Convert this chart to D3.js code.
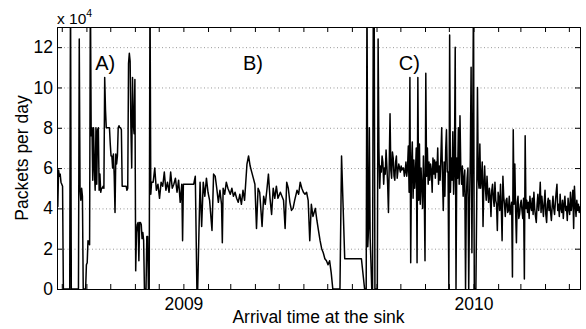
<!DOCTYPE html>
<html>
<head>
<meta charset="utf-8">
<script src="https://cdn.jsdelivr.net/npm/d3@7"></script>
<style>
  body { margin: 0; background: #fff; }
  svg { display: block; font-family: "Liberation Sans", Helvetica, Arial, sans-serif; }
  .axis path, .axis line { stroke: #000; }
  .grid line { stroke: #999; stroke-dasharray: 1,2.5; }
</style>
</head>
<body>
<div id="chart"></div>
<script>
// series starts on this day; readings are [day offset, packets / 1e4]
var startDate = new Date(2008, 6, 26);
var endDate = new Date(2010, 4, 15);

// period A (start of deployment)
var periodA = [
  [0,4.2],[1,4.1],[2,5.9],[3,5.6],[4,5.7],[5,5.3],[6,5.2],[7,5.1],[8,0],[16,0],
  [17,15],[18,0],[27,0],[28,12.4],[29,5.0],[30,4.4],[31,5.0],[32,4.6],[33,0],[36,0],
  [37,1.2],[38,1.3],[39,2.4],[40,2.3],[41,2.2],[42,15],[43,7.6],[44,8.0],[45,5.4],[46,8.0],
  [47,6.0],[48,4.9],[49,8.0],[50,5.2],[51,7.9],[52,8.0],[53,4.9],[54,5.7],[55,4.8],[56,5.0],
  [57,5.0],[58,5.1],[59,5.0],[60,10.5],[61,8.9],[62,8.0],[63,8.0],[64,8.0],[65,8.0],[66,8.0],
  [67,7.2],[68,6.6],[69,6.6],[70,6.0],[71,6.7],[72,5.6],[73,3.8],[74,6.7],[75,6.2],[76,6.6],
  [77,8.0],[78,8.1],[79,8.0],[80,8.0],[81,7.9],[82,5.1],[83,5.1],[84,5.1],[85,5.1],[86,5.1],
  [87,5.1],[88,4.9],[89,5.0],[90,11.2],[91,11.7],[92,11.3],[93,8.0],[94,6.0],[95,10.5],[96,8.2],
  [97,7.7],[98,10.4],[99,0.9],[100,2.8],[101,3.2],[102,3.3],[103,1.4],[104,3.3],[105,3.3],[106,3.2],
  [107,2.5],[108,2.8],[109,2.4],[110,0],[112,0],[113,2.6],[114,2.6],[115,0],[116,0],[117,15]
];

// period B (2009, stable then decaying)
var periodB = [
  [118,4.7],[119,5.3],[121,5.3],[123,6.0],[125,4.9],[127,5.2],[129,4.5],[131,5.3],[133,5.1],[135,5.8],
  [137,4.9],[139,5.3],[141,4.8],[143,5.8],[145,5.0],[147,5.2],[149,5.5],[151,4.8],[153,5.4],[155,4.3],
  [157,5.2],[158,2.4],[159,5.2],[172,5.2],[174,5.6],[176,0],[177,0],[180,5.3],[182,3.1],[184,5.3],
  [186,4.6],[188,5.5],[190,4.8],[192,4.4],[195,2.9],[197,5.7],[199,5.6],[201,5.0],[203,4.3],[205,4.9],
  [207,4.2],[208,2.3],[209,5.0],[211,4.7],[213,5.3],[215,5.0],[218,4.7],[220,5.0],[222,4.6],[224,4.8],
  [226,4.5],[228,4.3],[230,4.7],[232,4.2],[234,4.9],[236,4.4],[239,6.2],[241,6.6],[243,6.1],[245,5.8],
  [247,5.5],[249,5.2],[251,3.0],[253,5.0],[255,4.8],[258,3.1],[260,4.6],[262,4.2],[264,4.9],[266,5.7],
  [268,4.5],[270,3.7],[272,5.0],[274,4.5],[276,5.1],[278,4.5],[281,4.8],[283,4.6],[285,4.4],[287,3.0],
  [289,5.3],[291,5.0],[293,4.3],[295,3.9],[297,4.0],[299,4.4],[302,4.9],[304,4.7],[306,5.3],[308,5.0],
  [310,4.8],[312,4.7],[314,4.8],[316,4.4],[318,2.4],[320,4.2],[322,3.6],[325,4.0],[327,3.4],[329,2.9],
  [331,2.4],[333,2.0],[335,1.8],[337,1.5],[339,1.4],[341,1.2],[343,1.4],[345,0.8],[347,0],[356,0],
  [358,6.6],[362,1.5],[383,1.5],[387,0],[389,0]
];

// restart before period C
var restart = [
  [390,15],[391,2.1],[392,3.0],[393,8.0],[394,2.5],[395,1.3],[396,0],[397,0],[398,15],[399,15],
  [400,0],[403,0]
];

// period C, one reading per day from day 404
var periodCStart = 404;
var periodC = [
  12.4, 7.0,
  5.0, 6.1, 5.8, 6.6, 6.3, 5.2, 6.0, 5.7, 6.9, 6.1,
  5.2, 3.8, 6.2, 8.7, 5.9, 5.5, 6.8, 6.5, 5.6, 5.4,
  6.3, 6.6, 5.5, 5.9, 6.2, 6.0, 5.8, 6.1, 5.9, 6.0,
  6.0, 5.6, 5.8, 6.3, 5.6, 6.0, 7.1, 4.8, 10.5, 1.3,
  6.2, 7.3, 4.5, 6.4, 5.0, 5.8, 7.0, 1.3, 10.5, 4.4,
  7.2, 4.2, 6.0, 5.1, 4.0, 6.6, 5.0, 1.4, 10.7, 5.6,
  7.0, 5.2, 6.3, 5.4, 6.2, 5.9, 4.8, 6.5, 5.7, 6.4,
  5.5, 6.3, 5.8, 7.0, 5.2, 6.1, 5.4, 6.6, 8.0, 5.5,
  3.9, 6.3, 4.6, 6.9, 7.9, 5.8, 5.8, 0, 12.6, 4.8,
  6.5, 5.4, 7.8, 4.7, 6.1, 12.0, 0, 6.5, 5.5, 8.0,
  5.2, 8.6, 6.0, 5.2, 6.1, 4.6, 5.5, 5.9, 0, 4.6,
  5.5, 6.0, 0, 4.2, 6.5, 11.0, 1.8, 7.4, 15, 0,
  0, 0, 4.0, 10.0, 5.5, 5.0, 7.2, 5.0, 5.5, 6.3,
  3.1, 5.2, 6.1, 5.0, 4.4, 5.6, 4.8, 4.3, 5.0, 4.6,
  3.6, 4.9, 5.2, 4.5, 4.1, 5.3, 4.4, 4.2, 2.9, 4.8,
  4.5, 3.9, 5.2, 4.0, 2.4, 5.6, 4.6, 4.2, 3.6, 4.4,
  4.5, 3.8, 3.9, 4.6, 3.7, 4.0, 4.3, 0.6, 7.9, 4.2,
  6.2, 3.9, 2.3, 4.3, 4.6, 3.5, 3.7, 4.2, 4.4, 3.9,
  3.5, 4.5, 0.5, 7.6, 4.0, 4.4, 3.8, 4.3, 3.5, 4.6,
  4.1, 3.9, 4.5, 3.7, 4.8, 4.0, 3.6, 3.3, 4.2, 4.7,
  3.9, 4.4, 5.3, 3.8, 4.6, 4.1, 3.6, 4.3, 4.9, 3.7,
  3.3, 4.2, 4.5, 3.9, 4.4, 3.8, 3.4, 4.1, 4.6, 4.0,
  3.7, 4.3, 4.8, 5.2, 3.9, 4.2, 3.6, 4.7, 4.0, 3.8,
  4.4, 3.5, 4.2, 4.6, 3.9, 4.1, 3.4, 4.5, 4.0, 3.7,
  4.8, 3.9, 4.3, 4.9, 3.0, 5.1, 4.2, 3.6, 4.4, 3.9,
  4.2, 3.8, 4.1
];

var yTicks = [0, 2, 4, 6, 8, 10, 12];
var labels = [
  {text: 'A)', day: 48},
  {text: 'B)', day: 234},
  {text: 'C)', day: 430}
];

var margin = {top: 27, right: 6, bottom: 40, left: 57};
var width = 586 - margin.left - margin.right;
var height = 329 - margin.top - margin.bottom;

var data = periodA.concat(periodB, restart)
  .concat(periodC.map(function(v, i) { return [periodCStart + i, v]; }))
  .map(function(d) { return {date: d3.timeDay.offset(startDate, d[0]), value: d[1]}; });

var x = d3.scaleTime().domain([startDate, endDate]).range([0, width]);
var y = d3.scaleLinear().domain([0, 13]).range([height, 0]);

var svg = d3.select('#chart').append('svg')
  .attr('width', 586)
  .attr('height', 329)
  .append('g')
  .attr('transform', 'translate(' + margin.left + ',' + margin.top + ')');

svg.append('clipPath').attr('id', 'clip')
  .append('rect').attr('width', width).attr('height', height);

// dotted horizontal grid
svg.append('g')
  .attr('class', 'grid')
  .call(d3.axisLeft(y).tickValues(yTicks.slice(1)).tickSize(-width).tickFormat(''))
  .call(function(g) { g.select('.domain').remove(); });

// the data line
var line = d3.line()
  .x(function(d) { return x(d.date); })
  .y(function(d) { return y(d.value); });

svg.append('path')
  .datum(data)
  .attr('clip-path', 'url(#clip)')
  .attr('fill', 'none')
  .attr('stroke', '#000')
  .attr('stroke-width', 1.5)
  .attr('stroke-linejoin', 'round')
  .attr('d', line);

var months = d3.timeMonth.range(d3.timeMonth.ceil(startDate), endDate);
var yearFmt = d3.timeFormat('%Y');

// axes, ticks pointing inward on all four sides
var xAxis = d3.axisBottom(x).tickValues(months).tickSize(-5).tickPadding(9)
  .tickFormat(function(d) { return d.getMonth() === 0 ? yearFmt(d) : ''; });

svg.append('g')
  .attr('class', 'x axis')
  .attr('transform', 'translate(0,' + height + ')')
  .call(xAxis)
  .call(function(g) { g.selectAll('text').style('font-size', '17.5px').attr('fill', '#000'); });

svg.append('g')
  .attr('class', 'axis')
  .call(d3.axisTop(x).tickValues(months).tickSize(-5).tickFormat(''));

svg.append('g')
  .attr('class', 'y axis')
  .call(d3.axisLeft(y).tickValues(yTicks).tickSize(-5).tickPadding(4))
  .call(function(g) { g.selectAll('text').style('font-size', '17.5px').attr('fill', '#000'); });

svg.append('g')
  .attr('class', 'axis')
  .attr('transform', 'translate(' + width + ',0)')
  .call(d3.axisRight(y).tickValues(yTicks).tickSize(-5).tickFormat(''));

// exponent marker
var expo = svg.append('text')
  .attr('x', 0)
  .attr('y', -3)
  .style('font-size', '15.5px');
expo.append('tspan').text('x 10');
expo.append('tspan').attr('dy', -7).style('font-size', '10.5px').text('4');

// period labels
svg.selectAll('.period')
  .data(labels)
  .enter().append('text')
  .attr('class', 'period')
  .attr('x', function(d) { return x(d3.timeDay.offset(startDate, d.day)); })
  .attr('y', 43)
  .style('font-size', '20px')
  .text(function(d) { return d.text; });

svg.append('text')
  .attr('x', width / 2)
  .attr('y', height + 34)
  .attr('text-anchor', 'middle')
  .style('font-size', '17.5px')
  .text('Arrival time at the sink');

svg.append('text')
  .attr('transform', 'rotate(-90)')
  .attr('x', -131)
  .attr('y', -29)
  .attr('text-anchor', 'middle')
  .style('font-size', '17.5px')
  .text('Packets per day');
</script>
</body>
</html>
